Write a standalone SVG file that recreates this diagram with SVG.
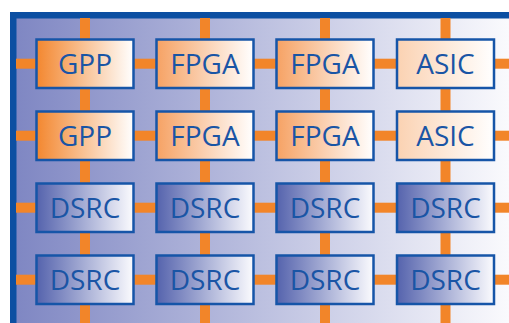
<svg xmlns="http://www.w3.org/2000/svg" width="509" height="323" viewBox="0 0 509 323">
  <defs>
    <linearGradient id="bg" x1="0" y1="0" x2="1" y2="0">
      <stop offset="0" stop-color="#7f87c3"/>
      <stop offset="1" stop-color="#fafafd"/>
    </linearGradient>
    <linearGradient id="gGpp" x1="0" y1="0" x2="1" y2="0">
      <stop offset="0" stop-color="#f3872f"/>
      <stop offset="1" stop-color="#ffffff"/>
    </linearGradient>
    <linearGradient id="gFpga" x1="0" y1="0" x2="1" y2="0">
      <stop offset="0" stop-color="#f6a264"/>
      <stop offset="1" stop-color="#ffffff"/>
    </linearGradient>
    <linearGradient id="gAsic" x1="0" y1="0" x2="1" y2="0">
      <stop offset="0" stop-color="#fbd2b2"/>
      <stop offset="1" stop-color="#ffffff"/>
    </linearGradient>
    <linearGradient id="gDsrc" x1="0" y1="0" x2="1" y2="0">
      <stop offset="0" stop-color="#5563ad"/>
      <stop offset="1" stop-color="#fbfbfe"/>
    </linearGradient>
  </defs>
  <style>
    .box { stroke: #1655a8; stroke-width: 2.5; }
    .gpp { fill: url(#gGpp); }
    .fpga { fill: url(#gFpga); }
    .asic { fill: url(#gAsic); }
    .dsrc { fill: url(#gDsrc); }
    .lbl { font-family: "Open Sans", "Liberation Sans", sans-serif; font-size: 28px; fill: #1a55a5; text-anchor: middle; }
    .link { stroke: #f28529; stroke-width: 10; }
  </style>

  <!-- board background with heavy top/left frame -->
  <rect x="0" y="0" width="509" height="323" fill="#ffffff"/>
  <rect x="10" y="12" width="499" height="311" fill="#0c4fa2"/>
  <rect x="16.5" y="18.5" width="492.5" height="304.5" fill="url(#bg)"/>

  <!-- mesh links -->
  <g id="connectors">
    <!-- vertical links, column by column -->
    <line class="link" x1="85" y1="18" x2="85" y2="40"/>
    <line class="link" x1="85" y1="88" x2="85" y2="112"/>
    <line class="link" x1="85" y1="160" x2="85" y2="184"/>
    <line class="link" x1="85" y1="232" x2="85" y2="256"/>
    <line class="link" x1="85" y1="304" x2="85" y2="323"/>

    <line class="link" x1="205" y1="18" x2="205" y2="40"/>
    <line class="link" x1="205" y1="88" x2="205" y2="112"/>
    <line class="link" x1="205" y1="160" x2="205" y2="184"/>
    <line class="link" x1="205" y1="232" x2="205" y2="256"/>
    <line class="link" x1="205" y1="304" x2="205" y2="323"/>

    <line class="link" x1="325" y1="18" x2="325" y2="40"/>
    <line class="link" x1="325" y1="88" x2="325" y2="112"/>
    <line class="link" x1="325" y1="160" x2="325" y2="184"/>
    <line class="link" x1="325" y1="232" x2="325" y2="256"/>
    <line class="link" x1="325" y1="304" x2="325" y2="323"/>

    <line class="link" x1="445.5" y1="18" x2="445.5" y2="40"/>
    <line class="link" x1="445.5" y1="88" x2="445.5" y2="112"/>
    <line class="link" x1="445.5" y1="160" x2="445.5" y2="184"/>
    <line class="link" x1="445.5" y1="232" x2="445.5" y2="256"/>
    <line class="link" x1="445.5" y1="304" x2="445.5" y2="323"/>

    <!-- horizontal links, row by row -->
    <line class="link" x1="16" y1="63.7" x2="37" y2="63.7"/>
    <line class="link" x1="133" y1="63.7" x2="157" y2="63.7"/>
    <line class="link" x1="253" y1="63.7" x2="277" y2="63.7"/>
    <line class="link" x1="373" y1="63.7" x2="397" y2="63.7"/>
    <line class="link" x1="494" y1="63.7" x2="509" y2="63.7"/>

    <line class="link" x1="16" y1="135.7" x2="37" y2="135.7"/>
    <line class="link" x1="133" y1="135.7" x2="157" y2="135.7"/>
    <line class="link" x1="253" y1="135.7" x2="277" y2="135.7"/>
    <line class="link" x1="373" y1="135.7" x2="397" y2="135.7"/>
    <line class="link" x1="494" y1="135.7" x2="509" y2="135.7"/>

    <line class="link" x1="16" y1="207.7" x2="37" y2="207.7"/>
    <line class="link" x1="133" y1="207.7" x2="157" y2="207.7"/>
    <line class="link" x1="253" y1="207.7" x2="277" y2="207.7"/>
    <line class="link" x1="373" y1="207.7" x2="397" y2="207.7"/>
    <line class="link" x1="494" y1="207.7" x2="509" y2="207.7"/>

    <line class="link" x1="16" y1="279.7" x2="37" y2="279.7"/>
    <line class="link" x1="133" y1="279.7" x2="157" y2="279.7"/>
    <line class="link" x1="253" y1="279.7" x2="277" y2="279.7"/>
    <line class="link" x1="373" y1="279.7" x2="397" y2="279.7"/>
    <line class="link" x1="494" y1="279.7" x2="509" y2="279.7"/>
  </g>

  <!-- row 1 -->
  <g id="gpp-1"><rect class="box gpp" x="36.5" y="39.5" width="97" height="48.5"/><text class="lbl" x="85" y="73.5">GPP</text></g>
  <g id="fpga-1"><rect class="box fpga" x="156.5" y="39.5" width="97" height="48.5"/><text class="lbl" x="205" y="73.5">FPGA</text></g>
  <g id="fpga-2"><rect class="box fpga" x="276.5" y="39.5" width="97" height="48.5"/><text class="lbl" x="325" y="73.5">FPGA</text></g>
  <g id="asic-1"><rect class="box asic" x="397" y="39.5" width="97" height="48.5"/><text class="lbl" x="445.5" y="73.5">ASIC</text></g>

  <!-- row 2 -->
  <g id="gpp-2"><rect class="box gpp" x="36.5" y="111.5" width="97" height="48.5"/><text class="lbl" x="85" y="145.5">GPP</text></g>
  <g id="fpga-3"><rect class="box fpga" x="156.5" y="111.5" width="97" height="48.5"/><text class="lbl" x="205" y="145.5">FPGA</text></g>
  <g id="fpga-4"><rect class="box fpga" x="276.5" y="111.5" width="97" height="48.5"/><text class="lbl" x="325" y="145.5">FPGA</text></g>
  <g id="asic-2"><rect class="box asic" x="397" y="111.5" width="97" height="48.5"/><text class="lbl" x="445.5" y="145.5">ASIC</text></g>

  <!-- row 3 -->
  <g id="dsrc-1"><rect class="box dsrc" x="36.5" y="183.5" width="97" height="48.5"/><text class="lbl" x="85" y="217.5">DSRC</text></g>
  <g id="dsrc-2"><rect class="box dsrc" x="156.5" y="183.5" width="97" height="48.5"/><text class="lbl" x="205" y="217.5">DSRC</text></g>
  <g id="dsrc-3"><rect class="box dsrc" x="276.5" y="183.5" width="97" height="48.5"/><text class="lbl" x="325" y="217.5">DSRC</text></g>
  <g id="dsrc-4"><rect class="box dsrc" x="397" y="183.5" width="97" height="48.5"/><text class="lbl" x="445.5" y="217.5">DSRC</text></g>

  <!-- row 4 -->
  <g id="dsrc-5"><rect class="box dsrc" x="36.5" y="255.5" width="97" height="48.5"/><text class="lbl" x="85" y="289.5">DSRC</text></g>
  <g id="dsrc-6"><rect class="box dsrc" x="156.5" y="255.5" width="97" height="48.5"/><text class="lbl" x="205" y="289.5">DSRC</text></g>
  <g id="dsrc-7"><rect class="box dsrc" x="276.5" y="255.5" width="97" height="48.5"/><text class="lbl" x="325" y="289.5">DSRC</text></g>
  <g id="dsrc-8"><rect class="box dsrc" x="397" y="255.5" width="97" height="48.5"/><text class="lbl" x="445.5" y="289.5">DSRC</text></g>
</svg>
